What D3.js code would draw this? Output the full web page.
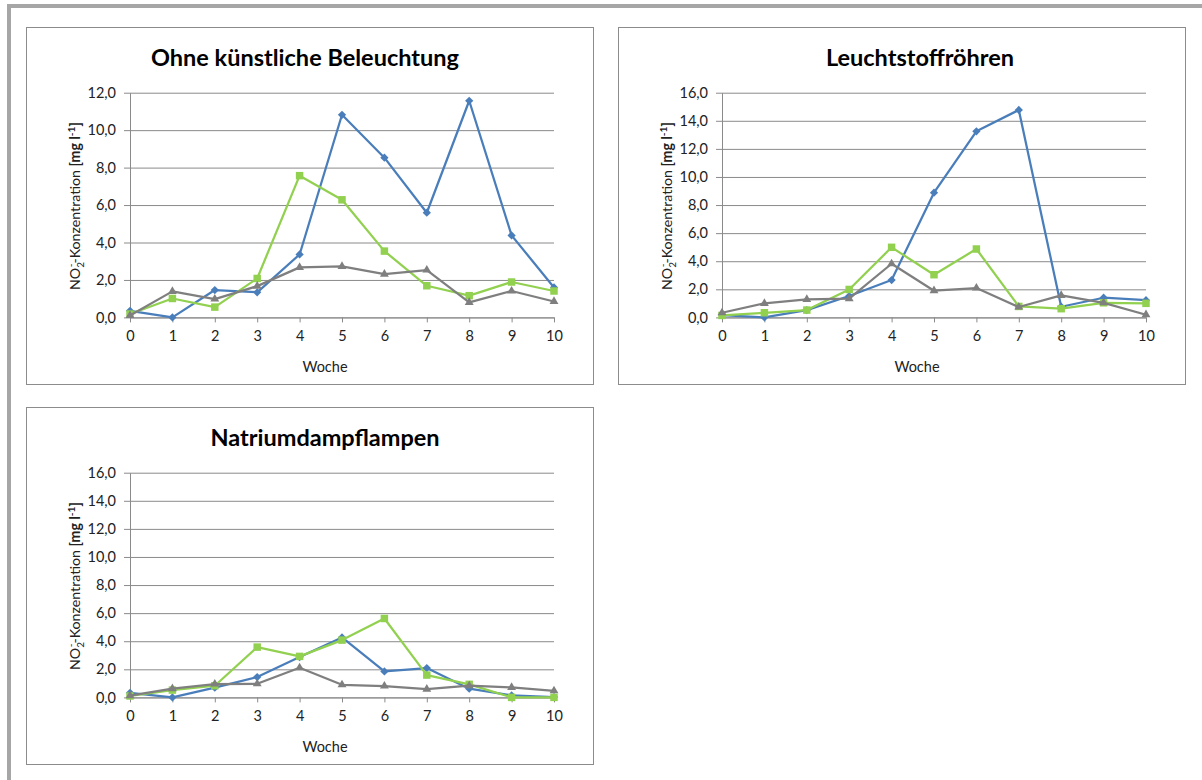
<!DOCTYPE html>
<html lang="de">
<head>
<meta charset="utf-8">
<title>NO2-Konzentration</title>
<script src="https://cdn.jsdelivr.net/npm/d3@7"></script>
<style>
  html, body { margin: 0; padding: 0; background: #ffffff; }
  svg { display: block; font-family: Lato, "Open Sans", sans-serif; }
</style>
</head>
<body>
<svg id="page" width="1202" height="780"></svg>
<script>
// Wochen (x-Achse)
const weeks = [0, 1, 2, 3, 4, 5, 6, 7, 8, 9, 10];

// Ohne künstliche Beleuchtung
const ohneBlue  = [0.35, 0.00, 1.46, 1.34, 3.36, 10.82, 8.53, 5.59, 11.57, 4.38, 1.60];
const ohneGreen = [0.18, 1.01, 0.55, 2.08, 7.57, 6.28, 3.54, 1.69, 1.16, 1.89, 1.41];
const ohneGrey  = [0.10, 1.39, 0.98, 1.67, 2.67, 2.72, 2.31, 2.53, 0.80, 1.41, 0.85];

// Leuchtstoffröhren
const leuchtBlue  = [0.17, 0.00, 0.52, 1.52, 2.66, 8.88, 13.25, 14.77, 0.76, 1.40, 1.23];
const leuchtGreen = [0.14, 0.33, 0.52, 1.99, 4.99, 3.04, 4.87, 0.78, 0.62, 1.04, 1.00];
const leuchtGrey  = [0.33, 1.00, 1.28, 1.33, 3.82, 1.90, 2.09, 0.74, 1.57, 1.04, 0.19];

// Natriumdampflampen
const natriumBlue  = [0.33, 0.00, 0.69, 1.45, 2.87, 4.27, 1.85, 2.09, 0.62, 0.14, 0.02];
const natriumGreen = [0.10, 0.52, 0.83, 3.58, 2.92, 4.08, 5.62, 1.59, 0.93, 0.00, 0.00];
const natriumGrey  = [0.12, 0.62, 0.95, 0.97, 2.11, 0.90, 0.81, 0.59, 0.83, 0.71, 0.47];

// Achsenbeschriftungen
const titles = ["Ohne künstliche Beleuchtung", "Leuchtstoffröhren", "Natriumdampflampen"];
const yMaxima = [12, 16, 16];
const xAxisLabel = "Woche";

// ---- Darstellung ----
const colors = { blue: "#4a7ebb", green: "#92d050", grey: "#7f7f7f" };
const gridColor = "#8a8a8a";
const labelSize = 14.5;
const yTitleLength = 168;   // Länge des gedrehten Achsentitels in px

const rhombus = {
  draw(ctx, size) {
    const r = Math.sqrt(size / 2);
    ctx.moveTo(0, -r); ctx.lineTo(r, 0); ctx.lineTo(0, r); ctx.lineTo(-r, 0); ctx.closePath();
  }
};
const markers = {
  blue:  { type: rhombus, size: 34 },
  green: { type: d3.symbolSquare, size: 56 },
  grey:  { type: d3.symbolTriangle, size: 34 }
};

const de = d3.formatLocale({ decimal: ",", thousands: ".", grouping: [3], currency: ["", " €"] });
const fmt = de.format(".1f");

const svg = d3.select("#page");

// Rahmen der Seite
svg.append("rect").attr("x", 7).attr("y", 4).attr("width", 1195).attr("height", 4).attr("fill", "#a6a6a6");
svg.append("rect").attr("x", 7).attr("y", 4).attr("width", 4).attr("height", 776).attr("fill", "#a6a6a6");

const boxW = 567, boxH = 357;
const plot = { left: 104, right: 528, top: 65.7, bottom: 290.4 };

const charts = [
  { x: 26,  y: 27,  title: titles[0], titleX: 279, yMax: yMaxima[0],
    series: [["blue", ohneBlue], ["green", ohneGreen], ["grey", ohneGrey]] },
  { x: 618, y: 27,  title: titles[1], titleX: 302, yMax: yMaxima[1],
    series: [["blue", leuchtBlue], ["green", leuchtGreen], ["grey", leuchtGrey]] },
  { x: 26,  y: 407, title: titles[2], titleX: 299, yMax: yMaxima[2],
    series: [["blue", natriumBlue], ["green", natriumGreen], ["grey", natriumGrey]] }
];

charts.forEach(drawChart);

function drawChart(c) {
  const g = svg.append("g").attr("transform", `translate(${c.x},${c.y})`);

  g.append("rect")
    .attr("x", 0.5).attr("y", 0.5).attr("width", boxW).attr("height", boxH)
    .attr("fill", "#ffffff").attr("stroke", "#8c8c8c").attr("stroke-width", 1);

  g.append("text")
    .attr("x", c.titleX).attr("y", 39)
    .attr("text-anchor", "middle")
    .attr("font-size", 23.5).attr("font-weight", "bold").attr("fill", "#000")
    .text(c.title);

  const x = d3.scaleLinear().domain([0, 10]).range([plot.left, plot.right]);
  const y = d3.scaleLinear().domain([0, c.yMax]).range([plot.bottom, plot.top]);
  const yTicks = d3.range(0, c.yMax + 0.001, 2);

  // Gitternetzlinien
  g.append("g")
    .attr("transform", `translate(${plot.left},0)`)
    .call(d3.axisLeft(y).tickValues(yTicks).tickSize(-(plot.right - plot.left)).tickFormat(""))
    .call(a => a.select(".domain").remove())
    .call(a => a.selectAll("line").attr("stroke", gridColor));

  // y-Achse
  g.append("g")
    .attr("transform", `translate(${plot.left},0)`)
    .call(d3.axisLeft(y).tickValues(yTicks).tickSize(6).tickSizeOuter(0).tickPadding(8).tickFormat(fmt))
    .call(a => a.select(".domain").attr("stroke", gridColor))
    .call(a => a.selectAll("line").attr("stroke", gridColor))
    .call(a => a.selectAll("text").attr("font-size", labelSize).attr("fill", "#222").attr("font-family", "Lato, sans-serif"));

  // x-Achse
  g.append("g")
    .attr("transform", `translate(0,${plot.bottom})`)
    .call(d3.axisBottom(x).tickValues(weeks).tickSize(5).tickSizeOuter(0).tickPadding(8).tickFormat(d3.format("d")))
    .call(a => a.select(".domain").attr("stroke", gridColor))
    .call(a => a.selectAll("line").attr("stroke", gridColor))
    .call(a => a.selectAll("text").attr("font-size", labelSize).attr("fill", "#222").attr("font-family", "Lato, sans-serif"));

  g.append("text")
    .attr("x", 299).attr("y", 344.5)
    .attr("text-anchor", "middle")
    .attr("font-size", labelSize).attr("fill", "#222")
    .text(xAxisLabel);

  // y-Achsentitel (auf feste Länge skaliert)
  const ytg = g.append("g");
  const yt = ytg.append("text")
    .attr("text-anchor", "middle")
    .attr("font-size", 12).attr("fill", "#222");
  yt.append("tspan").text("NO");
  yt.append("tspan").attr("font-size", 8.5).attr("dy", 3).text("2");
  yt.append("tspan").attr("font-size", 8.5).attr("dx", -4.5).attr("dy", -8.5).text("-");
  yt.append("tspan").attr("dy", 5.5).text("-Konzentration ");
  yt.append("tspan").attr("font-weight", "bold").text("[mg l");
  yt.append("tspan").attr("font-weight", "bold").attr("font-size", 8.5).attr("dy", -4.5).text("-1");
  yt.append("tspan").attr("font-weight", "bold").attr("dy", 4.5).text("]");
  const bb = yt.node().getBBox();
  const k = yTitleLength / bb.width;
  const cx = bb.x + bb.width / 2;
  ytg.attr("transform",
    `translate(${49 + 4.3 * k},${(plot.top + plot.bottom) / 2 + 1}) rotate(-90) scale(${k}) translate(${-cx},0)`);

  const line = d3.line().x((d, i) => x(weeks[i])).y(d => y(d));

  c.series.forEach(([key, values]) => {
    const s = g.append("g");
    s.append("path")
      .datum(values)
      .attr("fill", "none")
      .attr("stroke", colors[key])
      .attr("stroke-width", 2.25)
      .attr("stroke-linejoin", "round")
      .attr("d", line);
    const sym = d3.symbol().type(markers[key].type).size(markers[key].size);
    s.selectAll("path.m")
      .data(values)
      .join("path")
      .attr("class", "m")
      .attr("transform", (d, i) => `translate(${x(weeks[i])},${y(d)})`)
      .attr("d", sym)
      .attr("fill", colors[key]);
  });
}
</script>
</body>
</html>
